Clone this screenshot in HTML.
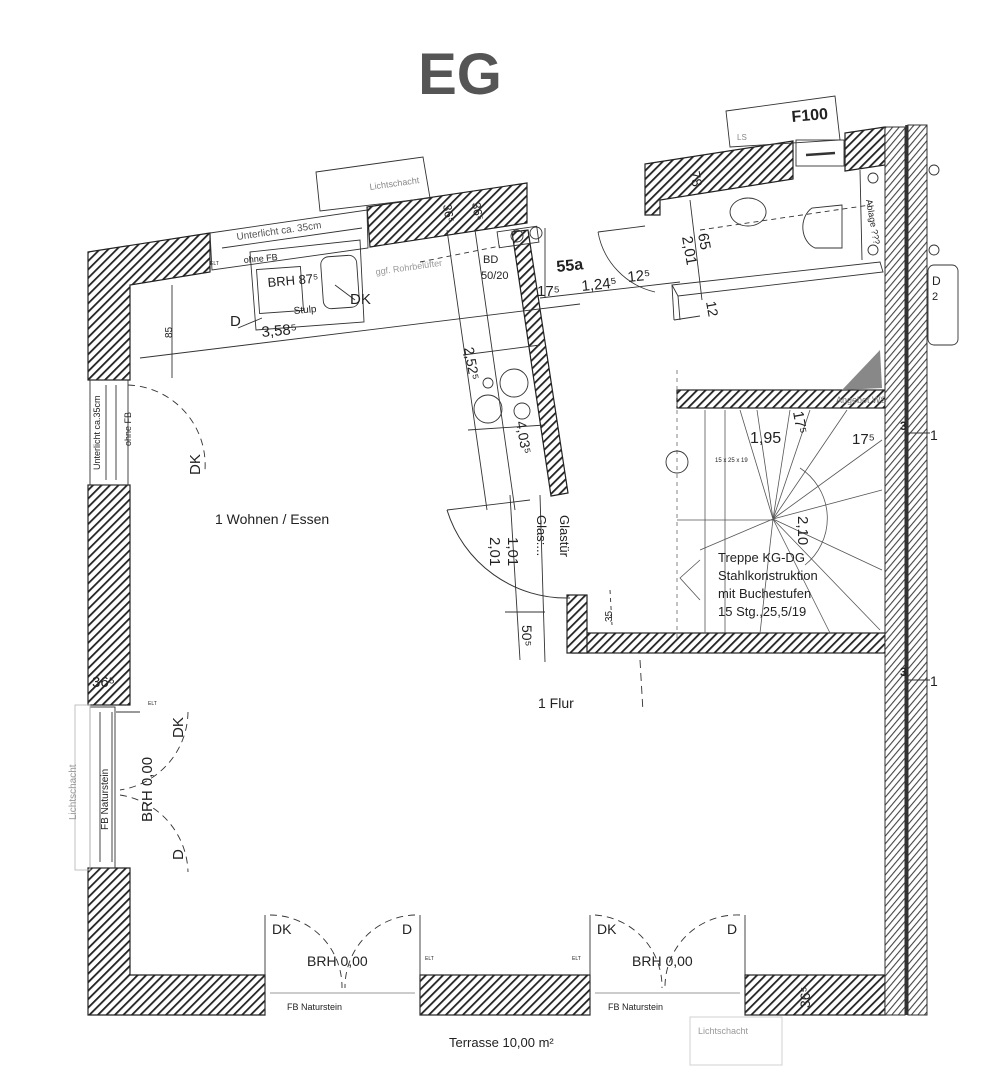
<!DOCTYPE html>
<html><head><meta charset="utf-8"><style>
html,body{margin:0;padding:0;background:#fff;}
svg{display:block;}
text{font-family:"Liberation Sans",sans-serif;fill:#222;}
</style></head><body>
<svg width="986" height="1080" viewBox="0 0 986 1080" xmlns="http://www.w3.org/2000/svg">
<defs>
<pattern id="h" patternUnits="userSpaceOnUse" width="6" height="6" patternTransform="rotate(-45)">
<rect width="6" height="6" fill="#fff"/><rect x="0" y="0" width="6" height="1.8" fill="#222"/></pattern>
<pattern id="h2" patternUnits="userSpaceOnUse" width="5" height="5" patternTransform="rotate(-50)">
<rect width="5" height="5" fill="#fff"/><rect x="0" y="0" width="5" height="1.1" fill="#444"/></pattern>
</defs>
<rect width="986" height="1080" fill="#fff"/>
<text x="460" y="94" font-size="58" font-weight="bold" text-anchor="middle" style="fill:#555">EG</text>

<g stroke="#222" stroke-width="1.2">
<polygon points="88,252 210,233 210,272 130,285 130,380 88,380" fill="url(#h)"/>
<polygon points="367,207 527,183 527,223 370,247" fill="url(#h)"/>
<polygon points="645,164 793,141 793,179 660,200 660,215 645,215" fill="url(#h)"/>
<polygon points="845,133 885,127 885,165 845,171" fill="url(#h)"/>
<polygon points="512,232 528,230 568,493 551,496" fill="url(#h)"/>
<rect x="88" y="485" width="42" height="220" fill="url(#h)"/>
<polygon points="88,868 130,868 130,975 265,975 265,1015 88,1015" fill="url(#h)"/>
<rect x="420" y="975" width="170" height="40" fill="url(#h)"/>
<rect x="745" y="975" width="140" height="40" fill="url(#h)"/>
<rect x="677" y="390" width="208" height="18" fill="url(#h)"/>
<rect x="572" y="633" width="313" height="20" fill="url(#h)"/>
<rect x="567" y="595" width="20" height="58" fill="url(#h)"/>
</g>
<g stroke="#333" stroke-width="1">
<rect x="885" y="127" width="20" height="888" fill="url(#h2)"/>
<rect x="908" y="125" width="19" height="890" fill="url(#h2)"/>
<line x1="906.5" y1="125" x2="906.5" y2="1015" stroke-width="2.5"/>
</g>

<g fill="none" stroke="#333" stroke-width="0.9">
<polygon points="316,172 423,157 430,198 320,211"/>
<polygon points="210,233 367,210 368,248 212,270"/>
<line x1="222" y1="248" x2="362" y2="228"/>
<polygon points="250,252 360,240 364,322 256,330"/>
<rect x="258" y="268" width="44" height="44" transform="rotate(-4 280 290)"/>
<rect x="322" y="256" width="36" height="52" rx="8" transform="rotate(-4 340 282)"/>
<path d="M238,328 L262,318 M355,300 L335,285"/>
<line x1="140" y1="358" x2="580" y2="304"/>
<line x1="172" y1="285" x2="172" y2="378"/>
<line x1="447" y1="230" x2="487" y2="510"/>
<line x1="475" y1="230" x2="515" y2="510"/>
<line x1="463" y1="355" x2="540" y2="345"/>
<line x1="468" y1="430" x2="545" y2="425"/>
<circle cx="488" cy="409" r="14"/><circle cx="514" cy="383" r="14"/><circle cx="522" cy="411" r="8"/><circle cx="488" cy="383" r="5"/>
<path d="M420,262 L500,246" stroke-dasharray="5,4"/>
<rect x="498" y="229" width="40" height="16" transform="rotate(-8 518 237)"/>
<circle cx="517" cy="236" r="6"/><circle cx="536" cy="233" r="6"/>
<rect x="90" y="380" width="38" height="105"/>
<line x1="106" y1="385" x2="106" y2="480"/><line x1="116" y1="385" x2="116" y2="480"/>
<path d="M128,385 A80,80 0 0 1 205,470" stroke-dasharray="7,5"/>
<rect x="90" y="707" width="25" height="161"/>
<line x1="100" y1="712" x2="100" y2="862"/><line x1="112" y1="712" x2="112" y2="862"/>
<line x1="116" y1="712" x2="140" y2="712"/>
<path d="M188,712 A80,80 0 0 1 120,790" stroke-dasharray="7,5"/>
<path d="M120,795 A80,80 0 0 1 188,872" stroke-dasharray="7,5"/>
<rect x="75" y="705" width="15" height="165" stroke="#bbb"/>
<line x1="265" y1="915" x2="265" y2="1015"/><line x1="420" y1="915" x2="420" y2="1015"/>
<line x1="590" y1="915" x2="590" y2="1015"/><line x1="745" y1="915" x2="745" y2="1015"/>
<path d="M270,915 A72,72 0 0 1 342,988" stroke-dasharray="7,5"/>
<path d="M415,915 A72,72 0 0 0 345,988" stroke-dasharray="7,5"/>
<path d="M595,915 A72,72 0 0 1 662,988" stroke-dasharray="7,5"/>
<path d="M740,915 A72,72 0 0 0 665,988" stroke-dasharray="7,5"/>
<line x1="270" y1="993" x2="415" y2="993" stroke="#999"/><line x1="595" y1="993" x2="740" y2="993" stroke="#999"/>
<rect x="690" y="1017" width="92" height="48" stroke="#ccc"/>
<path d="M598,232 A75,75 0 0 0 655,292" stroke-width="0.8"/>
<line x1="598" y1="232" x2="645" y2="226"/>
<line x1="540" y1="298" x2="680" y2="282"/>
<line x1="545" y1="228" x2="545" y2="298"/>
<polygon points="672,285 880,262 883,272 678,296"/>
<line x1="678" y1="296" x2="680" y2="320"/><line x1="672" y1="285" x2="674" y2="320"/>
<line x1="674" y1="320" x2="700" y2="316"/>
<line x1="690" y1="200" x2="702" y2="300"/>
<line x1="860" y1="170" x2="862" y2="260"/>
<path d="M748,198 a18,14 0 1 0 0.1,0" />
<path d="M842,205 L812,208 A18,22 0 0 0 815,248 L842,248 Z"/>
<circle cx="873" cy="178" r="5"/><circle cx="873" cy="250" r="5"/>
<polygon points="726,111 835,96 840,140 730,147"/>
<rect x="796" y="140" width="48" height="26"/><line x1="806" y1="155" x2="835" y2="153" stroke-width="2.5"/>
<path d="M700,230 L870,205" stroke-dasharray="5,4"/>
<path d="M447,510 A125,125 0 0 0 570,598" stroke-width="1"/>
<line x1="447" y1="510" x2="530" y2="500"/>
<line x1="510" y1="495" x2="520" y2="660"/><line x1="540" y1="495" x2="545" y2="662"/>
<line x1="505" y1="612" x2="545" y2="612"/>
<path d="M640,660 L643,712" stroke-dasharray="8,5"/>
<path d="M610,590 L612,625" stroke-dasharray="4,4"/>
<path d="M677,370 L677,640" stroke-dasharray="4,4" stroke="#777"/>
<circle cx="677" cy="462" r="11"/>
<g stroke="#555" stroke-width="0.8">
<line x1="773" y1="519" x2="740" y2="410"/><line x1="773" y1="519" x2="757" y2="410"/>
<line x1="773" y1="519" x2="790" y2="410"/><line x1="773" y1="519" x2="810" y2="410"/>
<line x1="773" y1="519" x2="847" y2="410"/><line x1="773" y1="519" x2="882" y2="440"/>
<line x1="773" y1="519" x2="882" y2="490"/><line x1="773" y1="519" x2="882" y2="570"/>
<line x1="773" y1="519" x2="880" y2="630"/><line x1="773" y1="519" x2="830" y2="633"/>
<line x1="773" y1="519" x2="760" y2="633"/><line x1="773" y1="519" x2="700" y2="550"/>
<line x1="705" y1="410" x2="705" y2="633"/><line x1="725" y1="410" x2="725" y2="633"/>
<line x1="677" y1="520" x2="773" y2="520"/>
<path d="M800,468 A60,60 0 0 1 805,565"/>
<path d="M700,560 L680,578 L700,600"/>
</g>
<line x1="905" y1="433" x2="930" y2="433"/><line x1="905" y1="680" x2="930" y2="680"/>
<circle cx="934" cy="170" r="5"/><circle cx="934" cy="250" r="5"/>
<rect x="928" y="265" width="30" height="80" rx="6"/>
</g>
<path d="M880,350 L882,388 L842,390 Z" fill="#888"/>

<g font-size="11">
<text x="370" y="190" font-size="9" transform="rotate(-8 370 190)" style="fill:#888">Lichtschacht</text>
<text x="237" y="240" font-size="10" transform="rotate(-8 237 240)" style="fill:#555">Unterlicht ca. 35cm</text>
<text x="244" y="263" font-size="9" transform="rotate(-5 244 263)">ohne FB</text>
<text x="268" y="287" font-size="13" transform="rotate(-5 268 287)">BRH 87⁵</text>
<text x="294" y="314" font-size="10" transform="rotate(-5 294 314)">Stulp</text>
<text x="230" y="326" font-size="15">D</text>
<text x="350" y="304" font-size="15">DK</text>
<text x="262" y="337" font-size="15" transform="rotate(-5 262 337)">3,58⁵</text>
<text x="376" y="275" font-size="9" transform="rotate(-8 376 275)" style="fill:#999">ggf. Rohrbelüfter</text>
<text x="172" y="338" font-size="10" transform="rotate(-90 172 338)">85</text>
<text x="483" y="263" font-size="11">BD</text><text x="481" y="279" font-size="11">50/20</text>
<text x="443" y="205" font-size="12" transform="rotate(80 443 205)">36⁵</text>
<text x="472" y="203" font-size="12" transform="rotate(80 472 203)">36⁵</text>
<text x="464" y="348" font-size="14" transform="rotate(80 464 348)">2,52⁵</text>
<text x="516" y="422" font-size="14" transform="rotate(80 516 422)">4,03⁵</text>
<text x="557" y="272" font-size="16" font-weight="bold" transform="rotate(-6 557 272)">55a</text>
<text x="537" y="296" font-size="15">17⁵</text>
<text x="582" y="291" font-size="15" transform="rotate(-6 582 291)">1,24⁵</text>
<text x="628" y="282" font-size="15" transform="rotate(-6 628 282)">12⁵</text>
<text x="682" y="237" font-size="15" transform="rotate(80 682 237)">2,01</text>
<text x="698" y="234" font-size="15" transform="rotate(80 698 234)">65</text>
<text x="690" y="172" font-size="14" transform="rotate(80 690 172)">78</text>
<text x="706" y="302" font-size="14" transform="rotate(80 706 302)">12</text>
<text x="866" y="200" font-size="9" transform="rotate(80 866 200)">Ablage ???</text>
<text x="792" y="122" font-size="16" font-weight="bold" transform="rotate(-5 792 122)">F100</text>
<text x="737" y="140" font-size="8" style="fill:#888">LS</text>
<text x="100" y="470" font-size="9" transform="rotate(-90 100 470)">Unterlicht ca.35cm</text>
<text x="131" y="446" font-size="9" transform="rotate(-90 131 446)">ohne FB</text>
<text x="200" y="475" font-size="15" transform="rotate(-90 200 475)">DK</text>
<text x="215" y="524" font-size="14">1 Wohnen / Essen</text>
<text x="92" y="687" font-size="15">36⁵</text>
<text x="76" y="820" font-size="10" transform="rotate(-90 76 820)" style="fill:#999">Lichtschacht</text>
<text x="108" y="830" font-size="10" transform="rotate(-90 108 830)">FB Naturstein</text>
<text x="152" y="822" font-size="15" transform="rotate(-90 152 822)">BRH 0,00</text>
<text x="183" y="738" font-size="15" transform="rotate(-90 183 738)">DK</text>
<text x="183" y="860" font-size="15" transform="rotate(-90 183 860)">D</text>
<text x="560" y="515" font-size="13" transform="rotate(90 560 515)">Glastür</text>
<text x="537" y="515" font-size="13" transform="rotate(90 537 515)">Glas:...</text>
<text x="508" y="537" font-size="15" transform="rotate(90 508 537)">1,01</text>
<text x="490" y="537" font-size="15" transform="rotate(90 490 537)">2,01</text>
<text x="522" y="625" font-size="14" transform="rotate(90 522 625)">50⁵</text>
<text x="612" y="622" font-size="10" transform="rotate(-90 612 622)">35</text>
<text x="538" y="708" font-size="14">1 Flur</text>
<text x="750" y="443" font-size="16">1,95</text>
<text x="793" y="412" font-size="15" transform="rotate(80 793 412)">17⁵</text>
<text x="852" y="444" font-size="15">17⁵</text>
<text x="715" y="462" font-size="6">15 x 25 x 19</text>
<text x="798" y="516" font-size="15" transform="rotate(90 798 516)">2,10</text>
<text x="718" y="562" font-size="13">Treppe KG-DG</text>
<text x="718" y="580" font-size="13">Stahlkonstruktion</text>
<text x="718" y="598" font-size="13">mit Buchestufen</text>
<text x="718" y="616" font-size="13">15 Stg.,25,5/19</text>
<text x="836" y="403" font-size="9" style="fill:#777">Angebot WS</text>
<text x="900" y="430" font-size="12" font-weight="bold">3</text>
<text x="900" y="676" font-size="12" font-weight="bold">3</text>
<text x="930" y="440" font-size="14">1</text><text x="930" y="686" font-size="14">1</text>
<text x="932" y="285" font-size="12">D</text><text x="932" y="300" font-size="11">2</text>
<text x="272" y="934" font-size="14">DK</text><text x="402" y="934" font-size="14">D</text>
<text x="307" y="966" font-size="14">BRH 0,00</text>
<text x="287" y="1010" font-size="9">FB Naturstein</text>
<text x="597" y="934" font-size="14">DK</text><text x="727" y="934" font-size="14">D</text>
<text x="632" y="966" font-size="14">BRH 0,00</text>
<text x="608" y="1010" font-size="9">FB Naturstein</text>
<text x="449" y="1047" font-size="13">Terrasse 10,00 m²</text>
<text x="698" y="1034" font-size="9" style="fill:#999">Lichtschacht</text>
<text x="800" y="998" font-size="14" transform="rotate(-90 810 998)">36⁵</text>
<text x="148" y="705" font-size="5">ELT</text><text x="210" y="265" font-size="5">ELT</text>
<text x="425" y="960" font-size="5">ELT</text><text x="572" y="960" font-size="5">ELT</text>
</g>
</svg>
</body></html>
